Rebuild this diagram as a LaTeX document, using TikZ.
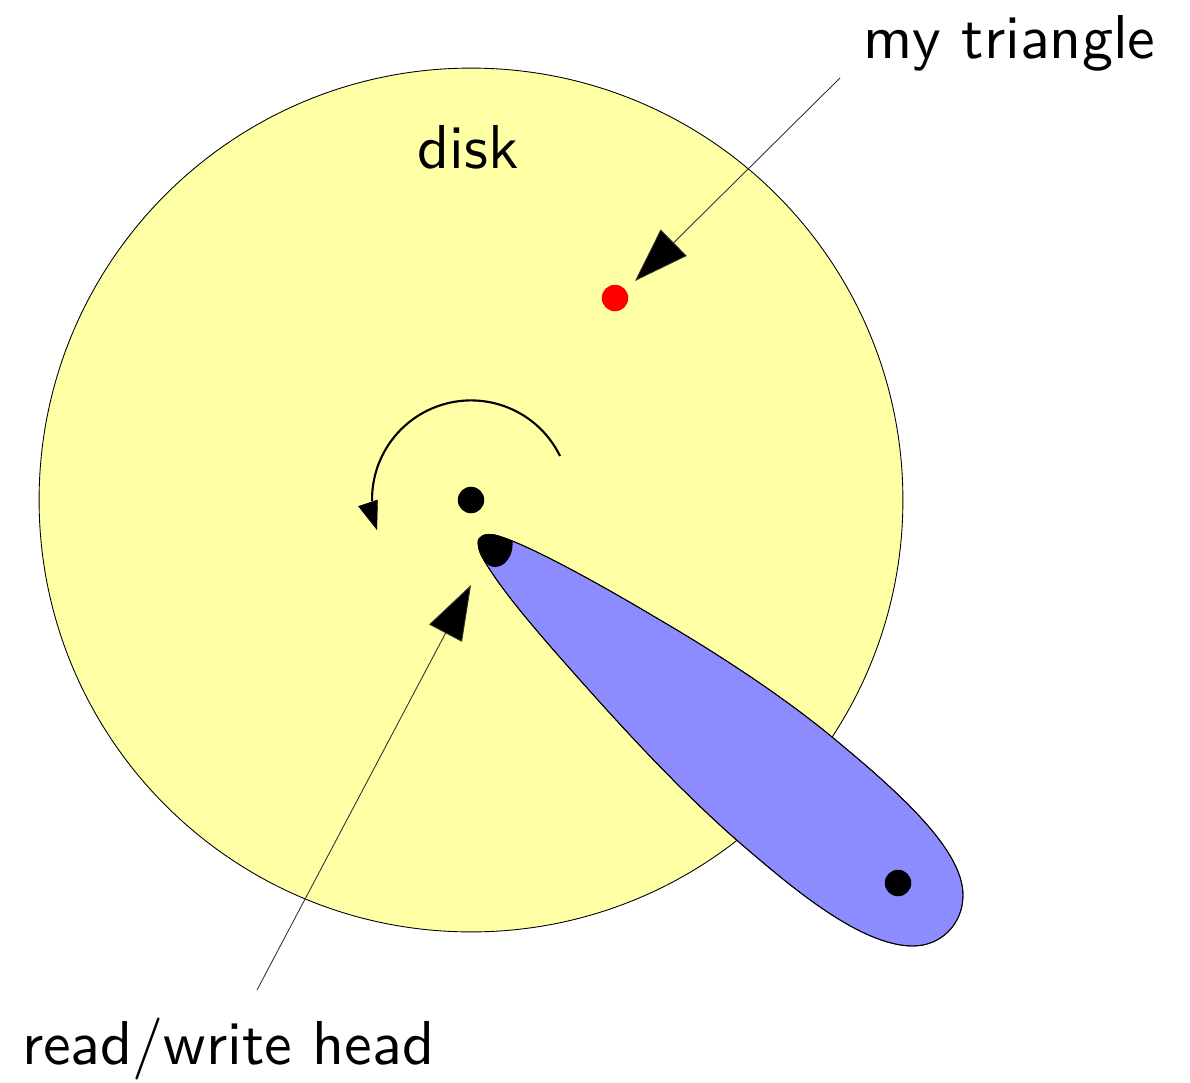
\documentclass[tikz,border=0pt]{standalone}
\usetikzlibrary{arrows.meta}
\renewcommand{\familydefault}{\sfdefault}
\definecolor{diskfill}{RGB}{255,255,166}
\definecolor{armfill}{RGB}{140,140,255}
\tikzset{
  x=0.02cm,y=-0.02cm,
  disknode/.style={circle,draw=black,line width=0.5pt,fill=diskfill,inner sep=0pt,minimum size=17.28cm},
  dotnode/.style={circle,fill=#1,inner sep=0pt,minimum size=0.53cm},
  lab/.style={inner sep=0pt,scale=3.53,text=black},
  pointer/.style={draw=black!80,line width=0.5pt,-{Triangle[length=1.09cm,width=0.74cm,fill=black]}},
  turn/.style={draw=black,line width=1.2pt},
  turntip/.style={draw=black,line width=0.2pt,-{Triangle[length=0.57cm,width=0.41cm,fill=black]}},
  armshape/.style={draw=black,line width=0.5pt,fill=armfill}
}
\begin{document}
\begin{tikzpicture}
\useasboundingbox (0,0) rectangle (1190,1082);
\node[disknode] (disk) at (471,500) {};
\node[lab,anchor=base] (disklabel) at (468,168) {disk};
\node[dotnode=black] (hub) at (471,500) {};
\node[dotnode=red] (triangle) at (615,298) {};
\coordinate (arcstart) at (560,456);
\coordinate (tipbase) at (368,503);
\coordinate (tipend) at (377,530);
\draw[turn] (arcstart) arc[start angle=26,end angle=181,radius=1.98cm];
\draw[turntip] (tipbase) -- (tipend);
\path[armshape,save path=\armpath]
  (478,543) .. controls (478,536) and (485,533) .. (495,535)
  .. controls (530,544) and (620,596) .. (660,620)
  .. controls (720,655) and (785,698) .. (832,737)
  .. controls (900,793) and (963,850) .. (963,895)
  .. controls (963,925) and (940,946) .. (913,946)
  .. controls (860,946) and (790,886) .. (740,843)
  .. controls (680,791) and (620,725) .. (580,680)
  .. controls (540,635) and (505,595) .. (485,562)
  .. controls (482,557) and (478,550) .. (478,543) -- cycle;
\begin{scope}
  \clip[use path=\armpath];
  \fill[black] (510,532) .. controls (517,547) and (509,567) .. (495,567)
    .. controls (491,567) and (487,565) .. (484,560) -- (470,530) -- cycle;
\end{scope}
\path[draw=black,line width=0.5pt,use path=\armpath];
\node[dotnode=black] (pivot) at (898,883) {};
\node[lab,anchor=base west] (tri) at (862,58) {my triangle};
\node[lab,anchor=base west] (head) at (21,1064) {read$/$write head};
\coordinate (trifrom) at (840,78);
\coordinate (trito) at (635,281);
\coordinate (headfrom) at (257,990);
\coordinate (headto) at (471,585);
\draw[pointer] (trifrom) -- (trito);
\draw[pointer] (headfrom) -- (headto);
\end{tikzpicture}
\end{document}
